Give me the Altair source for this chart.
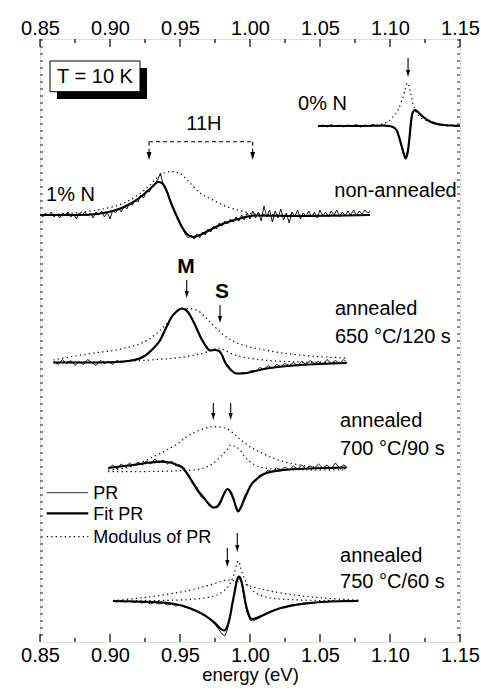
import altair as alt
import pandas as pd

# ---------------- data (energy in eV, signal in arb. u.) ----------------
# vertical offsets of the stacked spectra
offsets = {"0N": 516, "1N": 427, "650": 279.5, "700": 174, "750": 41}

# 0% N
fit_0N = [(1.0486, 0), (1.0786, 0), (1.0964, 0.5), (1.1021, -1), (1.1050, -5), (1.1071, -14),
          (1.1093, -25), (1.1112, -32.3), (1.1129, -24), (1.1139, -12), (1.1150, 4), (1.1161, 13),
          (1.1179, 16), (1.1200, 14), (1.1229, 10), (1.1286, 4.5), (1.1379, 1), (1.1500, 0)]
mod_0N = [(1.0486, 0), (1.0857, 0.5), (1.0964, 3), (1.1014, 8), (1.1057, 16), (1.1093, 29),
          (1.1126, 43), (1.1150, 31), (1.1164, 22), (1.1186, 14), (1.1214, 9), (1.1271, 5),
          (1.1357, 2), (1.1500, 0.5)]
pr_0N = [(1.049, 0), (1.052, 1), (1.055, -1), (1.058, 1.5), (1.061, -0.5), (1.064, 1), (1.067, -1),
         (1.070, 1), (1.073, 0), (1.076, 1.5), (1.079, -1), (1.082, 1), (1.085, 0), (1.088, 1.5),
         (1.091, 0), (1.094, 1), (1.097, -0.5), (1.100, 0), (1.102, -1), (1.105, -5), (1.107, -14),
         (1.109, -25), (1.111, -32), (1.113, -23), (1.114, -12), (1.115, 4), (1.116, 13),
         (1.118, 16.5), (1.120, 14), (1.123, 9.5), (1.126, 7), (1.129, 4), (1.132, 3), (1.135, 1),
         (1.138, 1.5), (1.141, 0), (1.144, 1), (1.147, -0.5), (1.150, 0.5)]

# 1% N non-annealed
fit_1N = [(0.8500, 0), (0.8786, 0), (0.9021, 4), (0.9143, 11), (0.9236, 20), (0.9300, 28),
          (0.9343, 33), (0.9371, 32), (0.9405, 24), (0.9436, 12), (0.9476, -1), (0.9514, -12),
          (0.9550, -19), (0.9593, -22), (0.9643, -20), (0.9714, -15), (0.9786, -10),
          (0.9929, -3.5), (1.0036, -0.5), (1.0357, -1), (1.0857, 0)]
mod_1N = [(0.8500, 0), (0.8905, 5), (0.9143, 15), (0.9286, 30), (0.9343, 38), (0.9386, 42),
          (0.9436, 43.5), (0.9500, 41.5), (0.9571, 32), (0.9643, 22), (0.9714, 16.5),
          (0.9834, 8.3), (0.9929, 4.5), (1.0036, 1), (1.0357, 0), (1.0857, 0)]
pr_1N = [(0.850, 1), (0.852, -2), (0.854, 2), (0.856, -1), (0.858, 3), (0.860, -2), (0.862, 1),
         (0.864, -3), (0.866, 2), (0.868, 0), (0.870, 3), (0.872, -2), (0.874, 1), (0.876, -4),
         (0.878, 2), (0.880, 0), (0.882, 3), (0.884, -1), (0.886, 2), (0.888, -3), (0.890, 3),
         (0.892, 0), (0.894, 4), (0.896, -2), (0.898, 3), (0.900, -4), (0.902, 5), (0.904, 2),
         (0.906, 7), (0.908, 3), (0.910, 9), (0.912, 6), (0.914, 12), (0.916, 10), (0.918, 15),
         (0.920, 13), (0.922, 20), (0.924, 17), (0.926, 24), (0.928, 23), (0.930, 28), (0.932, 31),
         (0.934, 35), (0.936, 42), (0.938, 30), (0.940, 26), (0.942, 18), (0.944, 11), (0.946, 3),
         (0.948, -2), (0.950, -9), (0.952, -14), (0.954, -20), (0.956, -23), (0.958, -20),
         (0.960, -24), (0.962, -19), (0.964, -23), (0.966, -17), (0.968, -20), (0.970, -14),
         (0.972, -17), (0.974, -11), (0.976, -14), (0.978, -8), (0.980, -11), (0.982, -6),
         (0.984, -9), (0.986, -4), (0.988, -7), (0.990, -2), (0.992, -6), (0.994, 0), (0.996, -5),
         (0.998, 2), (1.000, -4), (1.002, 4), (1.004, -3), (1.006, 3), (1.008, -6), (1.010, 9),
         (1.012, -2), (1.014, 5), (1.016, -7), (1.018, 4), (1.020, -3), (1.022, 6), (1.024, -5),
         (1.026, 2), (1.028, -8), (1.030, 3), (1.032, -2), (1.034, 5), (1.036, -4), (1.038, 2),
         (1.040, -1), (1.042, 4), (1.044, -2), (1.046, 3), (1.048, -3), (1.050, 5), (1.052, -1),
         (1.054, 3), (1.056, -2), (1.058, 4), (1.060, 0), (1.062, 5), (1.064, -2), (1.066, 3),
         (1.068, -1), (1.070, 4), (1.072, 0), (1.074, 5), (1.076, -1), (1.078, 4), (1.080, 1),
         (1.082, 5), (1.084, 2), (1.086, 4)]

# annealed 650 C / 120 s
fit_650 = [(0.8595, 0), (0.8929, 0), (0.9095, 1), (0.9214, 4), (0.9309, 14), (0.9357, 22),
           (0.9405, 36), (0.9443, 46), (0.9476, 51), (0.9512, 54), (0.9543, 52.5), (0.9571, 47.5),
           (0.9619, 34), (0.9650, 24.5), (0.9679, 17.5), (0.9714, 12), (0.9750, 12.5),
           (0.9779, 11.5), (0.9800, 7.5), (0.9821, 0.5), (0.9845, -4.5), (0.9871, -8.5),
           (0.9905, -11), (0.9943, -11), (1.0024, -9), (1.0119, -6), (1.0357, -2.5), (1.0691, -0.5)]
mod_650_M = [(0.8595, 2.5), (0.8857, 9), (0.9095, 14), (0.9286, 24), (0.9405, 39), (0.9464, 49.5),
             (0.9512, 54), (0.9550, 54), (0.9619, 52.5), (0.9679, 45.5), (0.9750, 35.5),
             (0.9821, 26.5), (0.9893, 20.5), (1.0000, 15.5), (1.0121, 12), (1.0357, 7.5),
             (1.0691, 4.5)]
mod_650_S = [(0.8595, 0), (0.9071, 1), (0.9336, 3), (0.9571, 6.5), (0.9679, 10), (0.9736, 13),
             (0.9771, 14.5), (0.9807, 13), (0.9857, 9.5), (0.9929, 6), (1.0036, 3.5),
             (1.0250, 1), (1.0693, 0)]
pr_650 = [(0.860, 1), (0.863, -2), (0.866, 3), (0.869, -1), (0.872, 2), (0.875, -3), (0.878, 1),
          (0.881, -2), (0.884, 3), (0.887, 0), (0.890, -3), (0.893, 2), (0.896, -1), (0.899, 1),
          (0.902, -2), (0.905, 2), (0.908, 0), (0.911, 1), (0.914, 2), (0.917, 3), (0.920, 4),
          (0.923, 6), (0.926, 8), (0.929, 12), (0.932, 16), (0.935, 21), (0.938, 29), (0.941, 37),
          (0.944, 46), (0.947, 51), (0.950, 54), (0.953, 53.5), (0.956, 49), (0.959, 42),
          (0.962, 33), (0.965, 25), (0.968, 18), (0.971, 12.5), (0.974, 12), (0.977, 12),
          (0.980, 7.5), (0.983, -1), (0.986, -6), (0.989, -10), (0.992, -11.5), (0.995, -10),
          (0.998, -11), (1.001, -8), (1.004, -9), (1.007, -5), (1.010, -7), (1.013, -3),
          (1.016, -6), (1.019, -2), (1.022, -4), (1.025, -1), (1.028, -3), (1.031, 0), (1.034, -3),
          (1.037, 1), (1.040, -2), (1.043, 2), (1.046, -1), (1.049, 1), (1.052, -2), (1.055, 3),
          (1.058, -1), (1.061, 2), (1.064, -1), (1.067, 3), (1.069, 0)]

# annealed 700 C / 90 s
fit_700 = [(0.8988, 0), (0.9164, 3), (0.9286, 5.5), (0.9357, 6.3), (0.9429, 5.5), (0.9479, 3),
           (0.9524, -0.3), (0.9557, -7), (0.9595, -15.3), (0.9629, -23), (0.9666, -29),
           (0.9700, -35), (0.9738, -39.5), (0.9764, -39), (0.9786, -35), (0.9814, -26),
           (0.9839, -21), (0.9857, -23), (0.9881, -30.3), (0.9900, -39), (0.9914, -43.5),
           (0.9936, -39), (0.9957, -32), (0.9979, -25), (1.0007, -17), (1.0048, -11),
           (1.0086, -7), (1.0143, -4), (1.0238, -2), (1.0429, -0.5), (1.0691, 0.5)]
mod_700_M = [(0.8986, -2), (0.9164, 2), (0.9286, 9.7), (0.9405, 18), (0.9500, 26), (0.9548, 31.3),
             (0.9643, 38), (0.9738, 41.3), (0.9821, 40), (0.9881, 34.7), (0.9936, 28),
             (1.0000, 21.3), (1.0086, 15), (1.0167, 9.7), (1.0357, 3), (1.0593, -0.3),
             (1.0691, -1)]
mod_700_S = [(0.8986, -3.7), (0.9286, -3.5), (0.9595, -2), (0.9679, 0.5), (0.9738, 4.7),
             (0.9786, 11), (0.9834, 18), (0.9861, 23), (0.9900, 21), (0.9929, 18), (0.9964, 11),
             (1.0000, 6.3), (1.0043, 2.5), (1.0119, -0.3), (1.0286, -1.5), (1.0691, -2)]
pr_700 = [(0.899, 0), (0.902, 3), (0.905, -1), (0.908, 4), (0.911, 1), (0.914, 5), (0.917, 2),
          (0.920, 6), (0.923, 3), (0.926, 7), (0.929, 4), (0.932, 9), (0.935, 5), (0.938, 8),
          (0.941, 4), (0.944, 7), (0.947, 2), (0.950, 3), (0.953, -3), (0.956, -6), (0.959, -16),
          (0.962, -19), (0.965, -29), (0.968, -31), (0.971, -38), (0.974, -40), (0.977, -37),
          (0.980, -30), (0.982, -24), (0.984, -21), (0.986, -25), (0.988, -31), (0.990, -40),
          (0.992, -44), (0.994, -38), (0.996, -29), (0.998, -24), (1.001, -16), (1.004, -13),
          (1.007, -7), (1.010, -6), (1.013, -2), (1.016, -4), (1.019, 0), (1.022, -2), (1.025, 1),
          (1.028, -2), (1.031, 2), (1.034, -1), (1.037, 3), (1.040, -1), (1.043, 2), (1.046, 0),
          (1.049, 4), (1.052, 0), (1.055, 3), (1.058, -1), (1.061, 5), (1.064, 0), (1.067, 3),
          (1.069, 1)]

# annealed 750 C / 60 s
fit_750 = [(0.9024, 0), (0.9381, -1.5), (0.9571, -7.3), (0.9691, -15.7), (0.9750, -22),
           (0.9786, -27.3), (0.9814, -29.5), (0.9836, -26), (0.9857, -15.7), (0.9875, -2),
           (0.9893, 11), (0.9907, 21), (0.9921, 24.3), (0.9936, 21), (0.9952, 11), (0.9968, -2),
           (0.9988, -12.3), (1.0012, -18), (1.0036, -17.5), (1.0071, -15.5), (1.0143, -11),
           (1.0214, -7.3), (1.0321, -4), (1.0405, -2.3), (1.0571, -0.5), (1.0774, 0)]
mod_750_M = [(0.9024, 0.5), (0.9381, 6), (0.9621, 12.5), (0.9750, 17.5), (0.9838, 21),
             (0.9900, 20), (0.9964, 17), (1.0036, 13.5), (1.0143, 10), (1.0321, 6), (1.0571, 2.5),
             (1.0774, 1)]
mod_750_S = [(0.9024, 0), (0.9500, 1), (0.9714, 4), (0.9800, 9), (0.9857, 17), (0.9886, 27),
             (0.9916, 40), (0.9943, 29), (0.9971, 19), (1.0014, 11), (1.0071, 6), (1.0214, 2),
             (1.0500, 0.5), (1.0774, 0)]
pr_750 = [(0.902, 0), (0.905, -1), (0.908, 0.5), (0.911, -1), (0.914, 0), (0.917, -1.5),
          (0.920, -0.5), (0.923, -2), (0.926, -1), (0.929, -3), (0.932, -1.5), (0.935, -3),
          (0.938, -2), (0.941, -4), (0.944, -3), (0.947, -5), (0.950, -4), (0.953, -6),
          (0.956, -7), (0.959, -9), (0.962, -10), (0.965, -12), (0.968, -15), (0.971, -18),
          (0.974, -22), (0.977, -27), (0.980, -33), (0.982, -35), (0.984, -28), (0.986, -14),
          (0.988, 2), (0.990, 18), (0.992, 24), (0.994, 18), (0.996, 2), (0.998, -12),
          (1.000, -19), (1.002, -20), (1.005, -18), (1.008, -16), (1.011, -13), (1.014, -11),
          (1.017, -9.5), (1.020, -8), (1.023, -6.5), (1.026, -5.5), (1.029, -4.5), (1.032, -4),
          (1.035, -3), (1.038, -2.5), (1.041, -2), (1.044, -1.5), (1.047, -1.5), (1.050, -1),
          (1.053, -0.5), (1.056, -1), (1.059, 0), (1.062, -0.5), (1.065, 0), (1.068, 0.5),
          (1.071, 0), (1.074, 0.5), (1.077, 0)]

# arrows: energy, top of shaft, tip (absolute arb. u.)
arrow_E = [1.1129, 0.9548, 0.9786, 0.9738, 0.9862, 0.9838, 0.9909]
arrow_top = [584, 362, 337, 239, 239, 94, 109]
arrow_tip = [565, 344, 319, 222, 222, 75, 90]

# 11H bracket
bracket_E = [0.9279, 1.0019]
bracket_y = 500.3
bracket_tip = 482

# tick positions
major_ticks = [0.85, 0.90, 0.95, 1.00, 1.05, 1.10, 1.15]
minor_ticks = [0.875, 0.925, 0.975, 1.025, 1.075, 1.125]
y_ticks = [7 * i for i in range(1, 87)]

# annotations
ann_text = ["0% N", "1% N", "non-annealed", "annealed", "650 °C/120 s", "annealed",
            "700 °C/90 s", "annealed", "750 °C/60 s"]
ann_E = [1.0343, 0.8543, 1.1476, 1.0607, 1.0607, 1.0643, 1.0643, 1.0643, 1.0643]
ann_y = [532, 441, 445, 327, 299, 215, 187, 80, 54]
ann_align = ["left", "left", "right", "left", "left", "left", "left", "left", "left"]

bold_text = ["M", "S"]
bold_E = [0.9543, 0.9800]
bold_y = [368.7, 344]

# ---------------- build tables ----------------
series_list = [
    ("0N", "fit", fit_0N), ("0N", "mod", mod_0N), ("0N", "pr", pr_0N),
    ("1N", "fit", fit_1N), ("1N", "mod", mod_1N), ("1N", "pr", pr_1N),
    ("650", "fit", fit_650), ("650", "modM", mod_650_M), ("650", "modS", mod_650_S), ("650", "pr", pr_650),
    ("700", "fit", fit_700), ("700", "modM", mod_700_M), ("700", "modS", mod_700_S), ("700", "pr", pr_700),
    ("750", "fit", fit_750), ("750", "modM", mod_750_M), ("750", "modS", mod_750_S), ("750", "pr", pr_750),
]
rows = []
for spec, kind, pts in series_list:
    for e, s in pts:
        rows.append({"E": e, "y": s + offsets[spec], "series": spec + "_" + kind,
                     "kind": "mod" if kind.startswith("mod") else kind})
df = pd.DataFrame(rows)

FONT = "Liberation Sans"
xs = alt.Scale(domain=[0.85, 1.15], nice=False, zero=False)
ys = alt.Scale(domain=[0, 603], nice=False, zero=False)


def X(field="E:Q"):
    return alt.X(field, scale=xs, axis=None)


def Y(field="y:Q"):
    return alt.Y(field, scale=ys, axis=None)


X_bottom = alt.X("E:Q", scale=xs, axis=alt.Axis(
    orient="bottom", values=major_ticks, format=".2f", title="energy (eV)", ticks=False,
    domain=False, grid=False, labelPadding=3, labelFontSize=20, titleFontSize=18.5,
    titleFontWeight="normal", titlePadding=0, labelFlush=False, labelOverlap=False,
    labelColor="black", titleColor="black"))
Y_main = alt.Y("y:Q", scale=ys, axis=alt.Axis(
    title="PR (arb. u.)", labels=False, ticks=False, domain=False, grid=False,
    titleFontSize=19, titleFontWeight="normal", titlePadding=20, titleColor="black"))

base = alt.Chart(df)
pr_layer = base.transform_filter(alt.datum.kind == "pr").mark_line(
    color="black", strokeWidth=0.9).encode(x=X_bottom, y=Y_main, detail="series:N")
fit_layer = base.transform_filter(alt.datum.kind == "fit").mark_line(
    color="black", strokeWidth=2.2, interpolate="monotone").encode(
    x=X(), y=Y(), detail="series:N")
mod_layer = base.transform_filter(alt.datum.kind == "mod").mark_line(
    color="black", strokeWidth=1.2, strokeDash=[1.3, 3.2], interpolate="monotone").encode(
    x=X(), y=Y(), detail="series:N")

# top axis with inward ticks
tick_major_df = pd.DataFrame({"E": major_ticks})
tick_minor_df = pd.DataFrame({"E": minor_ticks})
X_top = alt.X("E:Q", scale=xs, axis=alt.Axis(
    orient="top", values=major_ticks, format=".2f", title=None, ticks=False, domain=False,
    grid=False, labelPadding=1, labelFontSize=20, labelFlush=False, labelOverlap=False,
    labelColor="black"))
top_major = alt.Chart(tick_major_df).mark_rule(color="black", strokeWidth=1.2).encode(
    x=X_top, y=alt.value(0), y2=alt.value(8))
top_minor = alt.Chart(tick_minor_df).mark_rule(color="black", strokeWidth=1.2).encode(
    x=X(), y=alt.value(0), y2=alt.value(4))
bot_major = alt.Chart(tick_major_df).mark_rule(color="black", strokeWidth=1.2).encode(
    x=X(), y=alt.value(603), y2=alt.value(595))
bot_minor = alt.Chart(tick_minor_df).mark_rule(color="black", strokeWidth=1.2).encode(
    x=X(), y=alt.value(603), y2=alt.value(599))

# y ticks (inward, both sides)
ytick_df = pd.DataFrame({"y": y_ticks})
left_ticks = alt.Chart(ytick_df).mark_rule(color="black", strokeWidth=0.9).encode(
    y=Y(), x=alt.value(0), x2=alt.value(3))
right_ticks = alt.Chart(ytick_df).mark_rule(color="black", strokeWidth=0.9).encode(
    y=Y(), x=alt.value(417), x2=alt.value(420))

# arrows
arr_df = pd.DataFrame({"E": arrow_E, "top": arrow_top, "tip": arrow_tip})
arr_df["head"] = arr_df["tip"] + 3.5
arr_df["base"] = arr_df["tip"] + 6
arrow_shaft = alt.Chart(arr_df).mark_rule(color="black", strokeWidth=1.1).encode(
    x=X(), y=Y("top:Q"), y2="base:Q")
arrow_head = alt.Chart(arr_df).mark_point(
    shape="M-0.6,-1L0.6,-1L0,1Z", filled=True, color="black", opacity=1, size=49).encode(
    x=X(), y=Y("head:Q"))

# 11H bracket
br_df = pd.DataFrame({"E": bracket_E})
br_df["top"] = bracket_y
br_df["base"] = bracket_tip + 8
br_df["head"] = bracket_tip + 4
br_h = alt.Chart(pd.DataFrame({"E": [bracket_E[0]], "E2": [bracket_E[1]], "y": [bracket_y]})).mark_rule(
    color="black", strokeWidth=1.1, strokeDash=[4, 3]).encode(
    x=X(), x2="E2:Q", y=Y())
br_v = alt.Chart(br_df).mark_rule(color="black", strokeWidth=1.1, strokeDash=[4, 3]).encode(
    x=X(), y=Y("top:Q"), y2="base:Q")
br_head = alt.Chart(br_df).mark_point(
    shape="M-0.6,-1L0.6,-1L0,1Z", filled=True, color="black", opacity=1, size=64).encode(
    x=X(), y=Y("head:Q"))
br_text = alt.Chart(pd.DataFrame({"t": ["11H"], "E": [0.9671], "y": [512]})).mark_text(
    font=FONT, fontSize=20, align="center", baseline="alphabetic", color="black").encode(
    x=X(), y=Y(), text="t:N")

# annotations
ann_df = pd.DataFrame({"t": ann_text, "E": ann_E, "y": ann_y, "a": ann_align})
ann_left = alt.Chart(ann_df[ann_df["a"] == "left"]).mark_text(
    font=FONT, fontSize=20, align="left", baseline="alphabetic", color="black").encode(
    x=X(), y=Y(), text="t:N")
ann_right = alt.Chart(ann_df[ann_df["a"] == "right"]).mark_text(
    font=FONT, fontSize=20, align="right", baseline="alphabetic", color="black").encode(
    x=X(), y=Y(), text="t:N")
bold_df = pd.DataFrame({"t": bold_text, "E": bold_E, "y": bold_y})
ann_bold = alt.Chart(bold_df).mark_text(
    font=FONT, fontSize=21, fontWeight="bold", align="center", baseline="alphabetic",
    color="black").encode(x=X(), y=Y(), text="t:N")

# T = 10 K box with shadow
one = pd.DataFrame({"a": [0]})
box_shadow = alt.Chart(one).mark_rect(color="black").encode(
    x=alt.value(17), x2=alt.value(107), y=alt.value(29), y2=alt.value(60))
box = alt.Chart(one).mark_rect(fill="white", stroke="black", strokeWidth=1).encode(
    x=alt.value(10), x2=alt.value(100), y=alt.value(22), y2=alt.value(52.7))
box_text = alt.Chart(pd.DataFrame({"t": ["T = 10 K"]})).mark_text(
    font=FONT, fontSize=20, align="center", baseline="middle", color="black").encode(
    x=alt.value(55), y=alt.value(37.5), text="t:N")

# legend
leg_pr = alt.Chart(one).mark_rule(color="black", strokeWidth=0.8).encode(
    x=alt.value(6.7), x2=alt.value(48.3), y=alt.value(453.7))
leg_fit = alt.Chart(one).mark_rule(color="black", strokeWidth=2.2).encode(
    x=alt.value(6.7), x2=alt.value(48.3), y=alt.value(474.3))
leg_mod = alt.Chart(one).mark_rule(color="black", strokeWidth=1.2, strokeDash=[1.3, 3.2]).encode(
    x=alt.value(6.7), x2=alt.value(48.3), y=alt.value(497.7))
leg_df = pd.DataFrame({"t": ["PR", "Fit PR", "Modulus of PR"], "yy": [460, 481, 504]})
leg_text = alt.Chart(leg_df).mark_text(
    font=FONT, fontSize=18, align="left", baseline="alphabetic", color="black").encode(
    x=alt.value(53.3), y=alt.Y("yy:Q", scale=None, axis=None), text="t:N")

chart = alt.layer(
    pr_layer, top_major, fit_layer, mod_layer, top_minor, bot_major, bot_minor,
    left_ticks, right_ticks,
    arrow_shaft, arrow_head, br_h, br_v, br_head, br_text, ann_left, ann_right, ann_bold,
    box_shadow, box, box_text, leg_pr, leg_fit, leg_mod, leg_text
).resolve_axis(x="independent").properties(
    width=420, height=603,
    padding={"left": 40, "top": 39, "right": 21, "bottom": 51},
    autosize=alt.AutoSizeParams(type="none"),
).configure_view(stroke="black", strokeWidth=1.5).configure(font=FONT)

chart.save("out.html", embed_options={"renderer": "svg", "actions": False})
